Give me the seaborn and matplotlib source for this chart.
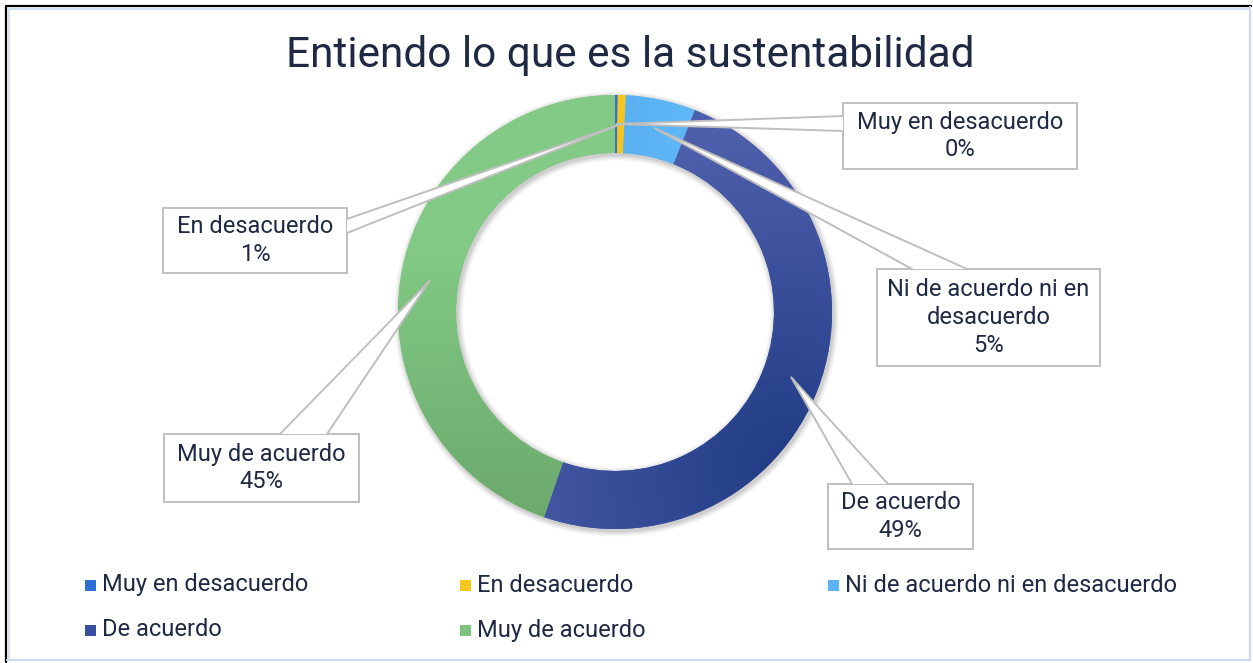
import numpy as np
import matplotlib
matplotlib.use("Agg")
import matplotlib.pyplot as plt
from matplotlib.patches import Rectangle, Polygon, Wedge
from matplotlib.lines import Line2D
from matplotlib.colors import to_rgb
import seaborn as sns

# ---------------- data ----------------
title = "Entiendo lo que es la sustentabilidad"
categories = ["Muy en desacuerdo", "En desacuerdo", "Ni de acuerdo ni en desacuerdo",
              "De acuerdo", "Muy de acuerdo"]
label_text = ["Muy en desacuerdo", "En desacuerdo", "Ni de acuerdo ni en\ndesacuerdo",
              "De acuerdo", "Muy de acuerdo"]
values = [0.2, 0.6, 5.2, 49.3, 44.7]
colors = ["#2E6FD3", "#F7C71C", "#5BB3F4", "#3A4E9E", "#7DC27F"]
# gradient end colours (light, dark) per slice for a glossy Excel-like look
grad_light = ["#3A80E0", "#FBD233", "#60B8F8", "#4D5EAB", "#82CA85"]
grad_dark = ["#2460C0", "#EDB60A", "#50A8EA", "#203B84", "#6BA86C"]

sns.set_theme(style="white")
plt.rcParams['font.family'] = ['Roboto', 'DejaVu Sans']
TXT = "#1E2943"

W, H = 1253, 663
fig = plt.figure(figsize=(W / 100, H / 100), dpi=100)
ax = fig.add_axes([0, 0, 1, 1])


def Y(y):  # pixel-from-top to data y
    return H - y


# donut
cx, cy = 615, Y(312)
R_out, ring = 217, 58

# soft shadow under the ring
for k, a in zip(range(6, 0, -1), [0.02, 0.025, 0.03, 0.035, 0.04, 0.05]):
    ax.add_patch(Wedge((cx + 1.5, cy - 2), R_out + k, 0, 360, width=ring + 2 * k,
                       facecolor="black", edgecolor="none", alpha=a, zorder=1))

wedges, _ = ax.pie(values, colors=colors, startangle=90, counterclock=False,
                   radius=R_out, center=(cx, cy), frame=True,
                   wedgeprops=dict(width=ring, linewidth=0, edgecolor="none", zorder=2))

# gradient fill clipped to each wedge
gx = np.linspace(cx - R_out - 2, cx + R_out + 2, 440)
gy = np.linspace(cy - R_out - 2, cy + R_out + 2, 440)
GX, GY = np.meshgrid(gx, gy)
focus_dark = (790, Y(470))
for i, w in enumerate(wedges):
    c1, c2 = np.array(to_rgb(grad_light[i])), np.array(to_rgb(grad_dark[i]))
    if i == 3:
        d = np.hypot(GX - focus_dark[0], GY - focus_dark[1])
        t = np.clip(1 - d / 330, 0, 1)
    elif i == 4:
        t = np.clip((cy + R_out - GY) / (2 * R_out), 0, 1)   # 0 top, 1 bottom
        t = np.clip((t - 0.35) / 0.65, 0, 1)
    else:
        t = np.clip((cx + 80 - GX) / 160, 0, 1)
    img = c1[None, None, :] * (1 - t[..., None]) + c2[None, None, :] * t[..., None]
    im = ax.imshow(img, extent=(gx[0], gx[-1], gy[0], gy[-1]), origin="lower",
                   interpolation="bilinear", zorder=3)
    im.set_clip_path(w)

ax.set_xlim(0, W)
ax.set_ylim(0, H)
ax.set_aspect("auto")
ax.axis("off")

# frame
ax.add_line(Line2D([6, 6, 1251], [Y(662), Y(6), Y(6)], color="black", lw=1.6, zorder=1))
ax.add_line(Line2D([8.5, 8.5, 1249], [Y(660), Y(8.5), Y(8.5)], color="#C9DBF5", lw=1.2, zorder=1))
ax.add_line(Line2D([1250, 1250, 7], [Y(7), Y(660), Y(660)], color="#C9DBF5", lw=1.6, zorder=1))

ax.text(630, Y(55), title, ha="center", va="center", fontsize=30.5, color=TXT)

# callouts: (box x0, y0, x1, y1 in px), leader base points (px)
boxes = [
    (843, 103, 1077, 169),
    (163, 208, 347, 273),
    (877, 269, 1100, 366),
    (828, 484, 973, 549),
    (164, 434, 359, 502),
]
bases = [
    ((843, 116), (843, 131)),
    ((347, 219), (347, 233)),
    ((912, 269), (967, 269)),
    ((852, 484), (888, 484)),
    ((280, 434), (327, 434)),
]
r_mid = R_out - ring / 2
cum = np.cumsum([0] + values[:-1])
total = sum(values)
EC = "#BFBFBF"
for i, v in enumerate(values):
    frac = (cum[i] + v / 2) / total
    ang = np.deg2rad(90 - 360 * frac)
    tx, ty = cx + r_mid * np.cos(ang), cy + r_mid * np.sin(ang)
    x0, y0, x1, y1 = boxes[i]
    ax.add_patch(Rectangle((x0, Y(y1)), x1 - x0, y1 - y0, facecolor="white",
                           edgecolor=EC, lw=1.4, zorder=5))
    (bx1, by1), (bx2, by2) = bases[i]
    ax.add_patch(Polygon([(bx1, Y(by1)), (tx, ty), (bx2, Y(by2))], closed=True,
                         facecolor="white", edgecolor="none", zorder=6))
    ax.add_line(Line2D([bx1, tx, bx2], [Y(by1), ty, Y(by2)], color=EC, lw=1.4, zorder=7))
    pct = f"{round(v / total * 100):.0f}%"
    ax.text((x0 + x1) / 2, Y((y0 + y1) / 2), f"{label_text[i]}\n{pct}", ha="center",
            va="center", fontsize=17, color=TXT, linespacing=1.25, zorder=8)

# legend (Excel-like even spacing)
leg_pos = [(90, 585), (465, 585), (833, 585), (90, 630), (465, 630)]
for (lx, ly), c, name in zip(leg_pos, colors, categories):
    ax.add_patch(Rectangle((lx - 5.5, Y(ly) - 5.5), 11, 11, facecolor=c, edgecolor="none"))
    ax.text(lx + 12, Y(ly), name, ha="left", va="center", fontsize=17, color=TXT)

fig.savefig("out.png", dpi=100)
